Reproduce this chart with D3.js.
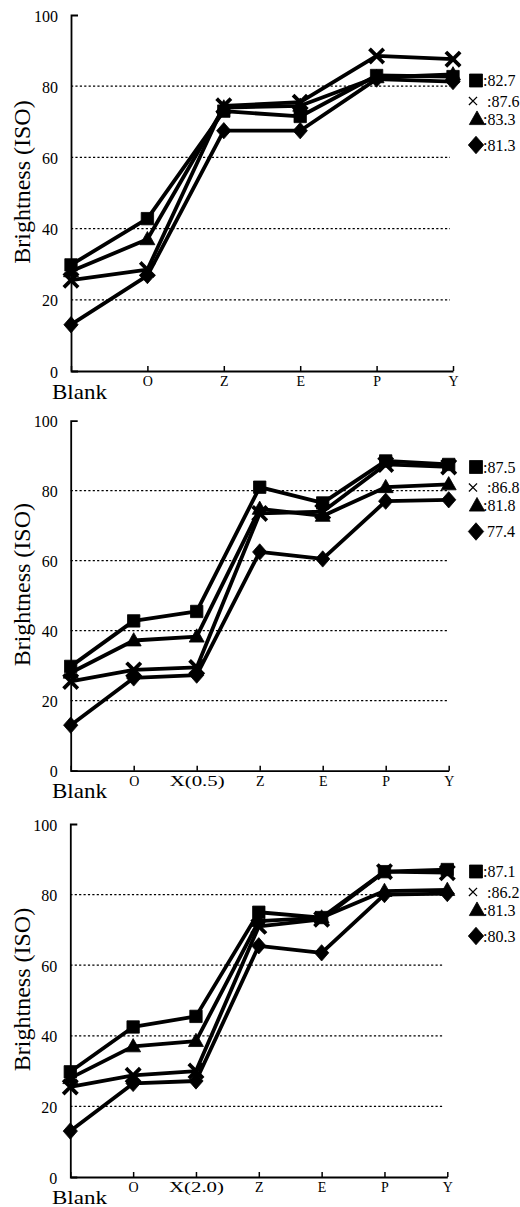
<!DOCTYPE html>
<html>
<head>
<meta charset="utf-8">
<script src="https://cdn.jsdelivr.net/npm/d3@7"></script>
<style>
  html, body { margin: 0; padding: 0; background: #fff; }
  svg { display: block; }
  text { font-family: "Liberation Serif", "Times New Roman", serif; fill: #000; }
</style>
</head>
<body>
<svg id="chart" width="520" height="1207"></svg>
<script>
// Brightness (ISO) after each bleaching stage, three sequences
const yTicks = [0, 20, 40, 60, 80, 100];
const gridValues = [20, 40, 60, 80];
const markerKinds = ["square", "cross", "triangle", "diamond"];

// Sequence 1
const categoriesA = ["Blank", "O", "Z", "E", "P", "Y"];
const squareA   = [29.8, 42.8, 73.0, 71.5, 83.0, 82.7];
const crossA    = [25.5, 28.5, 74.5, 75.5, 88.5, 87.6];
const triangleA = [28.0, 37.0, 74.0, 74.5, 82.5, 83.3];
const diamondA  = [13.0, 26.8, 67.5, 67.5, 82.0, 81.3];

// Sequence 2, X stage at 0.5
const categoriesB = ["Blank", "O", "X(0.5)", "Z", "E", "P", "Y"];
const squareB   = [29.8, 42.8, 45.5, 81.0, 76.5, 88.5, 87.5];
const crossB    = [25.5, 28.8, 29.5, 73.5, 74.0, 87.5, 86.8];
const triangleB = [28.0, 37.2, 38.3, 74.8, 72.8, 81.0, 81.8];
const diamondB  = [13.0, 26.5, 27.3, 62.5, 60.5, 77.0, 77.4];

// Sequence 3, X stage at 2.0
const categoriesC = ["Blank", "O", "X(2.0)", "Z", "E", "P", "Y"];
const squareC   = [29.8, 42.5, 45.5, 75.0, 73.5, 86.5, 87.1];
const crossC    = [25.5, 28.8, 30.0, 71.0, 73.0, 86.5, 86.2];
const triangleC = [28.0, 37.0, 38.5, 72.5, 73.5, 81.0, 81.3];
const diamondC  = [13.0, 26.5, 27.2, 65.5, 63.5, 80.0, 80.3];

// Legend separators (the last diamond entry of sequence 2 is printed without a colon)
const legendPrefixA = [":", " :", ":", ":"];
const legendPrefixB = [":", " :", ":", " "];
const legendPrefixC = [":", " :", ":", ":"];

const panels = [
  { cats: categoriesA, series: [squareA, crossA, triangleA, diamondA], prefix: legendPrefixA,
    frame: { x0: 71, x1: 453, yTop: 15, yBottom: 371, gridEnd: 450, legendTop: 80.5, blankDrop: 28, blankSize: 21 } },
  { cats: categoriesB, series: [squareB, crossB, triangleB, diamondB], prefix: legendPrefixB,
    frame: { x0: 70.7, x1: 448.7, yTop: 420.7, yBottom: 770.7, gridEnd: 447, legendTop: 467, blankDrop: 27.5, blankSize: 21 } },
  { cats: categoriesC, series: [squareC, crossC, triangleC, diamondC], prefix: legendPrefixC,
    frame: { x0: 70.3, x1: 447.3, yTop: 824, yBottom: 1177, gridEnd: 443, legendTop: 871.5, blankDrop: 26.5, blankSize: 19.5 } }
];

function markerPath(kind, s) {
  switch (kind) {
    case "square":   return `M${-s},${-s}h${2 * s}v${2 * s}h${-2 * s}Z`;
    case "triangle": return `M0,${-s * 1.15}L${s * 1.1},${s * 0.8}L${-s * 1.1},${s * 0.8}Z`;
    case "diamond":  return `M0,${-s * 1.2}L${s * 1.05},0L0,${s * 1.2}L${-s * 1.05},0Z`;
    default:         return `M${-s},${-s}L${s},${s}M${s},${-s}L${-s},${s}`;
  }
}
function drawMarker(g, kind, cx, cy, s, crossWidth) {
  const p = g.append("path")
    .attr("d", markerPath(kind, s))
    .attr("transform", `translate(${cx},${cy})`);
  if (kind === "cross") {
    p.attr("fill", "none").attr("stroke", "#000").attr("stroke-width", crossWidth).attr("stroke-linecap", "square");
  } else {
    p.attr("fill", "#000").attr("stroke", "#000").attr("stroke-width", 0.8).attr("stroke-linejoin", "round");
  }
}

const svg = d3.select("#chart");
svg.append("rect").attr("width", 520).attr("height", 1207).attr("fill", "#fff");

panels.forEach(panel => {
  const f = panel.frame;
  const g = svg.append("g");
  const x = d3.scalePoint().domain(panel.cats).range([f.x0, f.x1]);
  const y = d3.scaleLinear().domain([0, 100]).range([f.yBottom, f.yTop]);

  // dotted reference lines
  g.selectAll("line.grid").data(gridValues).join("line")
    .attr("class", "grid")
    .attr("x1", f.x0).attr("x2", f.gridEnd)
    .attr("y1", d => y(d)).attr("y2", d => y(d))
    .attr("stroke", "#000").attr("stroke-width", 1.3)
    .attr("stroke-dasharray", "2.2,2.2");

  // y axis
  const yAxis = d3.axisLeft(y).tickValues(yTicks).tickSizeInner(0).tickSizeOuter(-7).tickPadding(13);
  const ya = g.append("g").attr("transform", `translate(${f.x0},0)`).call(yAxis);
  ya.select(".domain").attr("stroke", "#000").attr("stroke-width", 1.8);
  ya.selectAll(".tick text").attr("font-size", 16).attr("font-family", "Liberation Serif").attr("dy", "0.38em");

  // x axis
  const xAxis = d3.axisBottom(x).tickSizeInner(-5).tickSizeOuter(0).tickPadding(5)
    .tickFormat(d => d === "Blank" ? "" : d);
  const xa = g.append("g").attr("transform", `translate(0,${f.yBottom})`).call(xAxis);
  xa.select(".domain").attr("stroke", "#000").attr("stroke-width", 1.8);
  xa.selectAll(".tick line").attr("stroke-width", 1.5);
  xa.selectAll(".tick text").attr("font-size", 14).attr("font-family", "Liberation Serif")
    .each(function(d) {
      if (d.startsWith("X(")) d3.select(this).attr("textLength", 55).attr("lengthAdjust", "spacingAndGlyphs");
    });

  g.append("text")
    .attr("x", 52).attr("y", f.yBottom + f.blankDrop)
    .attr("font-size", f.blankSize)
    .attr("textLength", 55).attr("lengthAdjust", "spacingAndGlyphs")
    .text("Blank");

  // y axis title
  const midY = (f.yTop + f.yBottom) / 2 - 11;
  g.append("text")
    .attr("transform", `translate(30,${midY}) rotate(-90)`)
    .attr("text-anchor", "middle")
    .attr("font-size", 24)
    .text("Brightness (ISO)");

  // series lines
  const line = d3.line().x((d, i) => x(panel.cats[i])).y(d => y(d));
  panel.series.forEach(vals => {
    g.append("path").datum(vals).attr("d", line)
      .attr("fill", "none").attr("stroke", "#000")
      .attr("stroke-width", 3.8).attr("stroke-linejoin", "round");
  });

  // markers
  const markerSize = { square: 6.2, cross: 5.8, triangle: 6.8, diamond: 6.8 };
  panel.series.forEach((vals, si) => {
    const kind = markerKinds[si];
    vals.forEach((v, i) => drawMarker(g, kind, x(panel.cats[i]), y(v), markerSize[kind], 3.8));
  });

  // legend: final brightness for each sequence
  const legendOffsets = [0, 20.5, 38.5, 64.5];
  const legendMarker = {
    square: { cx: 476, s: 6.5 }, cross: { cx: 473, s: 3.6 },
    triangle: { cx: 477, s: 7 }, diamond: { cx: 476, s: 7.3 }
  };
  panel.series.forEach((vals, si) => {
    const kind = markerKinds[si];
    const ly = f.legendTop + legendOffsets[si];
    drawMarker(g, kind, legendMarker[kind].cx, ly, legendMarker[kind].s, 1.3);
    g.append("text")
      .attr("x", 483).attr("y", ly + 5.5)
      .attr("font-size", 16)
      .attr("xml:space", "preserve")
      .style("white-space", "pre")
      .text(panel.prefix[si] + vals[vals.length - 1].toFixed(1));
  });
});
</script>
</body>
</html>
